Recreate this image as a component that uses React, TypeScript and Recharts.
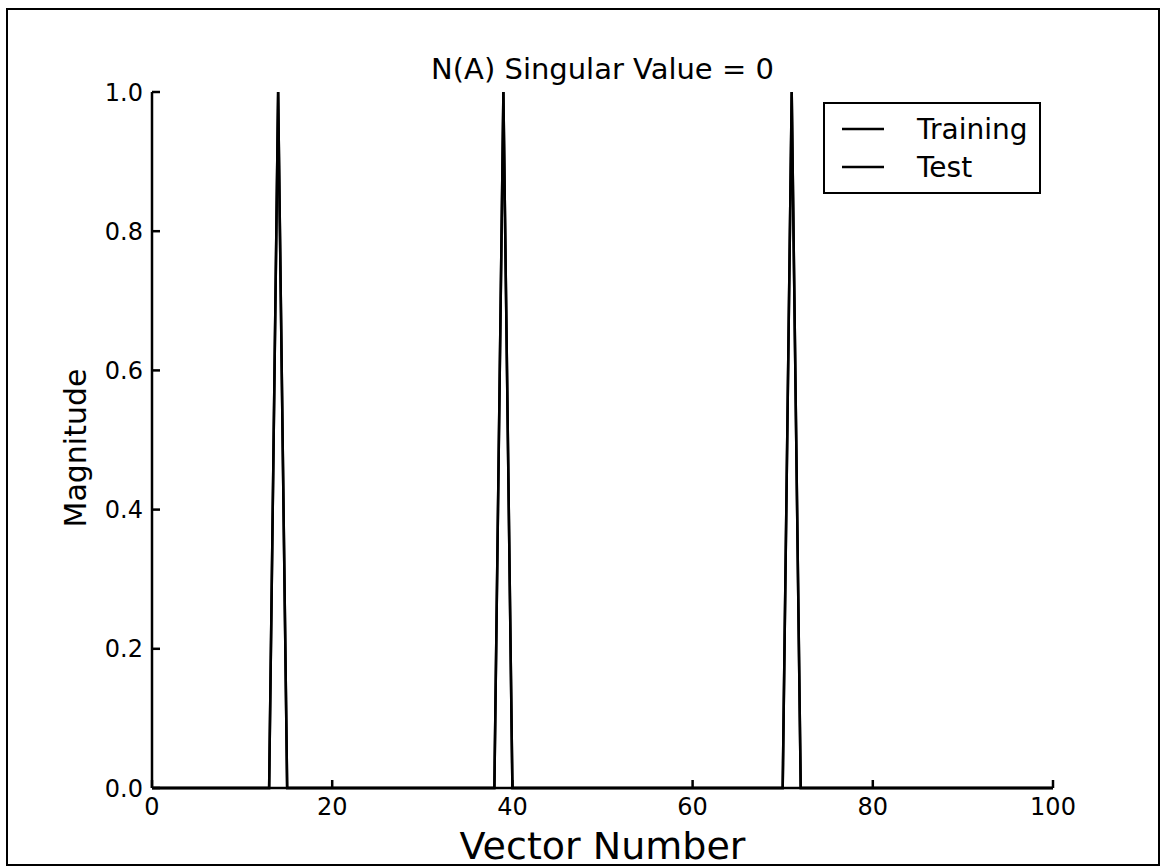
import { LineChart, Line, XAxis, YAxis, Legend } from "recharts";

// vector index 0..100, magnitude is 1 only at a few indices
const vectorNumbers: number[] = Array.from({ length: 101 }, (_, i) => i);
const trainingSpikes = [14, 39, 71];
const testSpikes = [14, 39, 71];

const xTicks = [0, 20, 40, 60, 80, 100];
const yTicks = [0, 0.2, 0.4, 0.6, 0.8, 1.0];

const data = vectorNumbers.map((n) => ({
  n,
  training: trainingSpikes.includes(n) ? 1 : 0,
  test: testSpikes.includes(n) ? 1 : 0,
}));

const FONT = "'DejaVu Sans', sans-serif";

function LegendBox() {
  const rows = [
    { name: "Training", y: 27 },
    { name: "Test", y: 65 },
  ];
  return (
    <svg width={218} height={92}>
      <rect x={1} y={1} width={216} height={90} fill="#fff" stroke="#000" strokeWidth={2} />
      {rows.map((r) => (
        <g key={r.name}>
          <line x1={19} x2={61} y1={r.y} y2={r.y} stroke="#000" strokeWidth={2.5} />
          <text x={94} y={r.y} dominantBaseline="central" fontSize={28} fontFamily={FONT} fill="#000">
            {r.name}
          </text>
        </g>
      ))}
    </svg>
  );
}

const noLabel = () => <g />;

export default function App() {
  return (
    <div style={{ position: "absolute", left: 0, top: 0, width: 1163, height: 867, background: "#fff" }}>
      <div
        style={{
          position: "absolute",
          left: 6,
          top: 8,
          width: 1150,
          height: 854,
          border: "2px solid #000",
        }}
      />
      <div
        style={{
          position: "absolute",
          left: 152,
          width: 901,
          top: 51,
          textAlign: "center",
          fontFamily: FONT,
          fontSize: 29,
          lineHeight: "36px",
          color: "#000",
        }}
      >
        N(A) Singular Value = 0
      </div>
      <LineChart
        width={1163}
        height={867}
        data={data}
        margin={{ top: 92, right: 110, bottom: 7, left: 40 }}
        style={{ position: "absolute", left: 0, top: 0 }}
      >
        <XAxis
          dataKey="n"
          type="number"
          domain={[0, 100]}
          ticks={xTicks}
          height={72}
          stroke="#000"
          strokeWidth={2.5}
          tickSize={-8}
          tickMargin={18}
          tick={{ fill: "#000", fontSize: 24, fontFamily: FONT }}
          label={({ viewBox }: any) => (
            <text
              x={viewBox.x + viewBox.width / 2}
              y={viewBox.y + 58}
              textAnchor="middle"
              dominantBaseline="central"
              fontSize={38}
              fontFamily={FONT}
              fill="#000"
            >
              Vector Number
            </text>
          )}
        />
        <XAxis
          xAxisId="top"
          orientation="top"
          dataKey="n"
          type="number"
          domain={[0, 100]}
          ticks={xTicks}
          height={0}
          stroke="#000"
          strokeWidth={2.5}
          tickSize={-8}
          tick={noLabel}
        />
        <YAxis
          type="number"
          domain={[0, 1]}
          ticks={yTicks}
          width={112}
          stroke="#000"
          strokeWidth={2.5}
          tickSize={-8}
          tickMargin={17}
          tickFormatter={(v: number) => v.toFixed(1)}
          tick={{ fill: "#000", fontSize: 24, fontFamily: FONT }}
          label={({ viewBox }: any) => {
            const cx = viewBox.x + 35;
            const cy = viewBox.y + viewBox.height / 2 + 8;
            return (
              <text
                x={cx}
                y={cy}
                transform={`rotate(-90 ${cx} ${cy})`}
                textAnchor="middle"
                dominantBaseline="central"
                fontSize={30}
                fontFamily={FONT}
                fill="#000"
              >
                Magnitude
              </text>
            );
          }}
        />
        <YAxis
          yAxisId="right"
          orientation="right"
          type="number"
          domain={[0, 1]}
          ticks={yTicks}
          width={0}
          stroke="#000"
          strokeWidth={2.5}
          tickSize={-8}
          tick={noLabel}
        />
        <Legend
          layout="horizontal"
          align="center"
          verticalAlign="middle"
          content={() => <LegendBox />}
          wrapperStyle={{ position: "absolute", left: 823, top: 102, width: 218, height: 92 }}
        />
        <Line
          name="Training"
          dataKey="training"
          type="linear"
          stroke="#000"
          strokeWidth={2.5}
          dot={false}
          isAnimationActive={false}
        />
        <Line
          name="Test"
          dataKey="test"
          type="linear"
          stroke="#000"
          strokeWidth={2.5}
          dot={false}
          isAnimationActive={false}
        />
      </LineChart>
    </div>
  );
}
